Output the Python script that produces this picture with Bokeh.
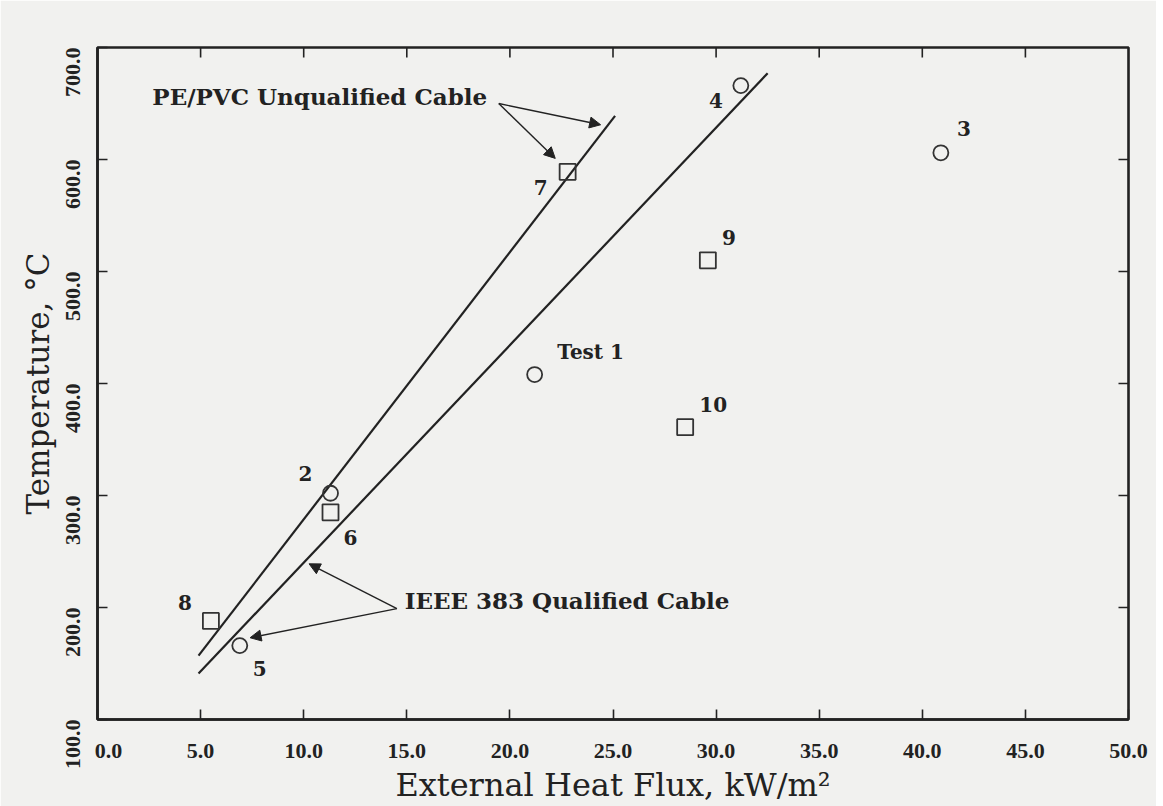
import math
from bokeh.plotting import figure
from bokeh.models import (Range1d, LinearAxis, FixedTicker, Arrow, NormalHead,
                          ColumnDataSource, PrintfTickFormatter)
from bokeh.core.properties import value
from bokeh.embed import file_html
from bokeh.resources import INLINE

# ---- data ----
circle_x = [21.2, 11.3, 40.9, 31.2, 6.9]
circle_y = [408, 302, 606, 666, 166]
circle_labels = ["Test 1", "2", "3", "4", "5"]

square_x = [11.3, 22.8, 5.5, 29.6, 28.5]
square_y = [285, 589, 188, 510, 361]
square_labels = ["6", "7", "8", "9", "10"]

pe_pvc_line_x = [4.9, 25.1]
pe_pvc_line_y = [157, 639]
ieee_line_x = [4.9, 32.5]
ieee_line_y = [141, 677]

annot_text = ["PE/PVC Unqualified Cable", "IEEE 383 Qualified Cable"]
annot_x = [2.66, 14.9]
annot_y = [656, 206]
arrow_x0 = [19.46, 19.46, 14.52, 14.52]
arrow_y0 = [650, 650, 199, 199]
arrow_x1 = [24.4, 22.2, 10.26, 7.4]
arrow_y1 = [631, 601, 239, 173]

x_ticks = [0, 5, 10, 15, 20, 25, 30, 35, 40, 45, 50]
y_ticks = [100, 200, 300, 400, 500, 600, 700]

# label offsets in screen pixels (dx, dy; +dy is down)
circle_off_x = [56, -25, 23, -25, 20]
circle_off_y = [-23, -20, -24, 15, 23]
square_off_x = [20, -27, -26, 21, 28]
square_off_y = [25, 16, -18, -23, -23]

BG = "#f1f1ef"
INK = "#222222"
SERIF = "DejaVu Serif"
TICK_FONT = "Liberation Serif"
NBSP = "\u00a0"

p = figure(frame_width=1031, frame_height=672, output_backend="svg",
           toolbar_location=None,
           x_range=Range1d(0, 50), y_range=Range1d(100, 700),
           x_axis_location=None, y_axis_location=None,
           min_border_left=97, min_border_right=28, min_border_top=47,
           min_border_bottom=76, background_fill_color=BG, border_fill_color=BG)
p.grid.visible = False
p.outline_line_color = INK
p.outline_line_width = 2.6


def make_axis(label_text, ticks, vertical=False, standoff=18, label_size="32px"):
    ax = LinearAxis(ticker=FixedTicker(ticks=ticks))
    ax.axis_line_color = INK
    ax.axis_line_width = 2.6
    ax.major_tick_line_color = INK
    ax.major_tick_line_width = 1.6
    ax.major_tick_in = 10
    ax.major_tick_out = 0
    ax.minor_tick_line_color = None
    ax.formatter = PrintfTickFormatter(format="%.1f")
    ax.major_label_text_font = TICK_FONT
    ax.major_label_text_font_style = "bold"
    ax.major_label_text_font_size = "22px"
    ax.major_label_text_color = INK
    ax.major_label_standoff = standoff
    if vertical:
        ax.major_label_orientation = math.pi / 2
    ax.axis_label = label_text
    ax.axis_label_text_font = SERIF
    ax.axis_label_text_font_style = "normal"
    ax.axis_label_text_font_size = label_size
    ax.axis_label_text_color = INK
    ax.axis_label_standoff = 0
    return ax


xax = make_axis("External Heat Flux, kW/m²", x_ticks, standoff=18, label_size="32px")
# the corner label is nudged away from the corner, as in the original
xax.major_label_overrides = {x_ticks[0]: NBSP * 4 + "%.1f" % x_ticks[0]}
p.add_layout(xax, "below")
yax = make_axis("Temperature, °C", y_ticks, vertical=True, standoff=25, label_size="31px")
p.add_layout(yax, "left")

# inward ticks on top and right edges (clipped to the frame)
p.scatter(x_ticks[1:-1], [y_ticks[-1]] * (len(x_ticks) - 2), marker="dash",
          angle=math.pi / 2, size=20, line_color=INK, line_width=1.6)
p.scatter([x_ticks[-1]] * (len(y_ticks) - 2), y_ticks[1:-1], marker="dash",
          size=20, line_color=INK, line_width=1.6)

# correlation lines
p.line(pe_pvc_line_x, pe_pvc_line_y, line_color=INK, line_width=2.2)
p.line(ieee_line_x, ieee_line_y, line_color=INK, line_width=2.2)

# data points
csrc = ColumnDataSource(dict(x=circle_x, y=circle_y, t=circle_labels,
                             dx=circle_off_x, dy=circle_off_y))
ssrc = ColumnDataSource(dict(x=square_x, y=square_y, t=square_labels,
                             dx=square_off_x, dy=square_off_y))
p.scatter("x", "y", source=csrc, marker="circle", size=15, fill_color=None,
          line_color="#333333", line_width=1.8)
p.scatter("x", "y", source=ssrc, marker="square", size=16, fill_color=None,
          line_color="#333333", line_width=1.8)

for src in (csrc, ssrc):
    p.text("x", "y", text="t", source=src, x_offset="dx", y_offset="dy",
           text_align="center", text_baseline="middle",
           text_font=value(SERIF), text_font_style="bold",
           text_font_size="20px", text_color=INK)

# annotations
asrc = ColumnDataSource(dict(x=annot_x, y=annot_y, t=annot_text))
p.text("x", "y", text="t", source=asrc, text_align="left", text_baseline="middle",
       text_font=value(SERIF), text_font_style="bold", text_font_size="23px",
       text_color=INK)

for x0, y0, x1, y1 in zip(arrow_x0, arrow_y0, arrow_x1, arrow_y1):
    p.add_layout(Arrow(end=NormalHead(size=11, fill_color=INK, line_color=INK),
                       x_start=x0, y_start=y0, x_end=x1, y_end=y1,
                       line_color=INK, line_width=1.4))

open("out.html", "w").write(file_html(p, INLINE))
